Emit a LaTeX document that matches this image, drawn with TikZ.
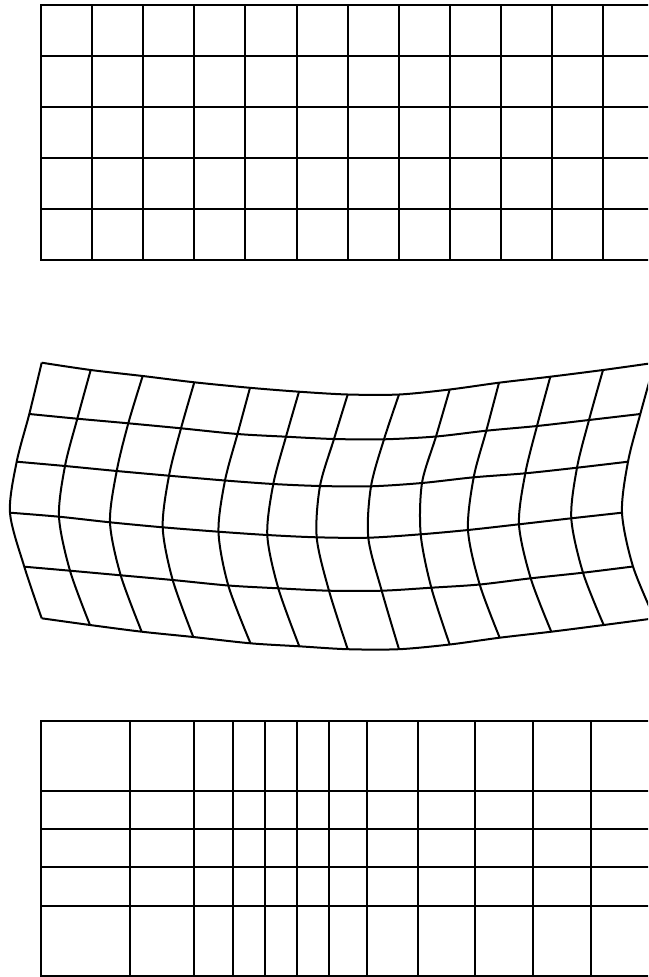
\documentclass[tikz,border=0pt]{standalone}
\begin{document}
\begin{tikzpicture}[x=1pt,y=-1pt,
  gridline/.style={line width=2pt,black,line join=round,line cap=rect},
  meshline/.style={line width=2pt,black,line join=round,line cap=butt}]
\useasboundingbox (0,0) rectangle (648,977);
\clip (0,0) rectangle (648,977);
% ---------- top regular grid ----------
\foreach \k in {0,...,11} \draw[gridline] ({41+51.1*\k},4.5) -- ({41+51.1*\k},260);
\foreach \j in {0,...,5} \draw[gridline] (41,{4.5+51.1*\j}) -- (652,{4.5+51.1*\j});
% ---------- middle deformed mesh ----------
\foreach \c/\x/\y in {0/41.7/362.7,1/90.7/370,2/142.7/376,3/194.3/382.3,4/250/387.8,5/299/391.7,6/347.7/394.5,7/399/394.5,8/449.7/389.5,9/499/382.7,10/550.3/376.7,11/603/370,12/654.5/362.8}
  \coordinate (m0-\c) at (\x,\y);
\foreach \c/\x/\y in {0/29.3/414,1/77.3/418.7,2/128.3/423.3,3/181/428.3,4/237.5/434,5/286/436.7,6/334/439,7/384/439.3,8/436/436.5,9/486.3/430.7,10/537/426,11/589/420,12/640.3/414}
  \coordinate (m1-\c) at (\x,\y);
\foreach \c/\x/\y in {0/16.7/461.7,1/65/466,2/116.7/471,3/169/475.7,4/225/480.5,5/273.3/484,6/320/486,7/371/486.3,8/422/483,9/473.7/477.3,10/525.3/473.3,11/577/467.7,12/628/461.7}
  \coordinate (m2-\c) at (\x,\y);
\foreach \c/\x/\y in {0/10/512.7,1/59/516.7,2/110/522.3,3/162.7/527.3,4/218.5/531.7,5/267.3/535,6/316.7/537.3,7/368.3/537.7,8/420.7/534.3,9/468/530,10/519/524.3,11/571.3/518.3,12/622/512.7}
  \coordinate (m3-\c) at (\x,\y);
\foreach \c/\x/\y in {0/24.3/566.7,1/70/570.7,2/120.7/575.3,3/172.7/580,4/228.3/585.5,5/278.3/588.3,6/329/590.7,7/381.7/590.7,8/431.3/587.7,9/479.7/584.5,10/530.7/578.3,11/583/572.7,12/633/566.5}
  \coordinate (m4-\c) at (\x,\y);
\foreach \c/\x/\y in {0/41.7/618.3,1/90/625,2/141.7/631.7,3/193.3/637,4/250.5/643.3,5/299.3/646.3,6/347.7/649.2,7/399/649.2,8/449.7/644.5,9/499.7/637.7,10/551.3/631.7,11/603.7/625,12/654.5/618.3}
  \coordinate (m5-\c) at (\x,\y);
\foreach \r in {0,...,5}
  \draw[meshline] plot[smooth] coordinates {(m\r-0) (m\r-1) (m\r-2) (m\r-3) (m\r-4) (m\r-5) (m\r-6) (m\r-7) (m\r-8) (m\r-9) (m\r-10) (m\r-11) (m\r-12)};
\foreach \c in {0,...,12}
  \draw[meshline] plot[smooth] coordinates {(m0-\c) (m1-\c) (m2-\c) (m3-\c) (m4-\c) (m5-\c)};
% ---------- bottom graded grid ----------
\foreach \x in {41,130.3,194,232.7,265,296.7,328.5,366.7,418,475.3,533.3,590.7}
  \draw[gridline] (\x,720.7) -- (\x,976);
\foreach \y in {720.7,791,829,867.3,906,976}
  \draw[gridline] (41,\y) -- (652,\y);
\end{tikzpicture}
\end{document}
